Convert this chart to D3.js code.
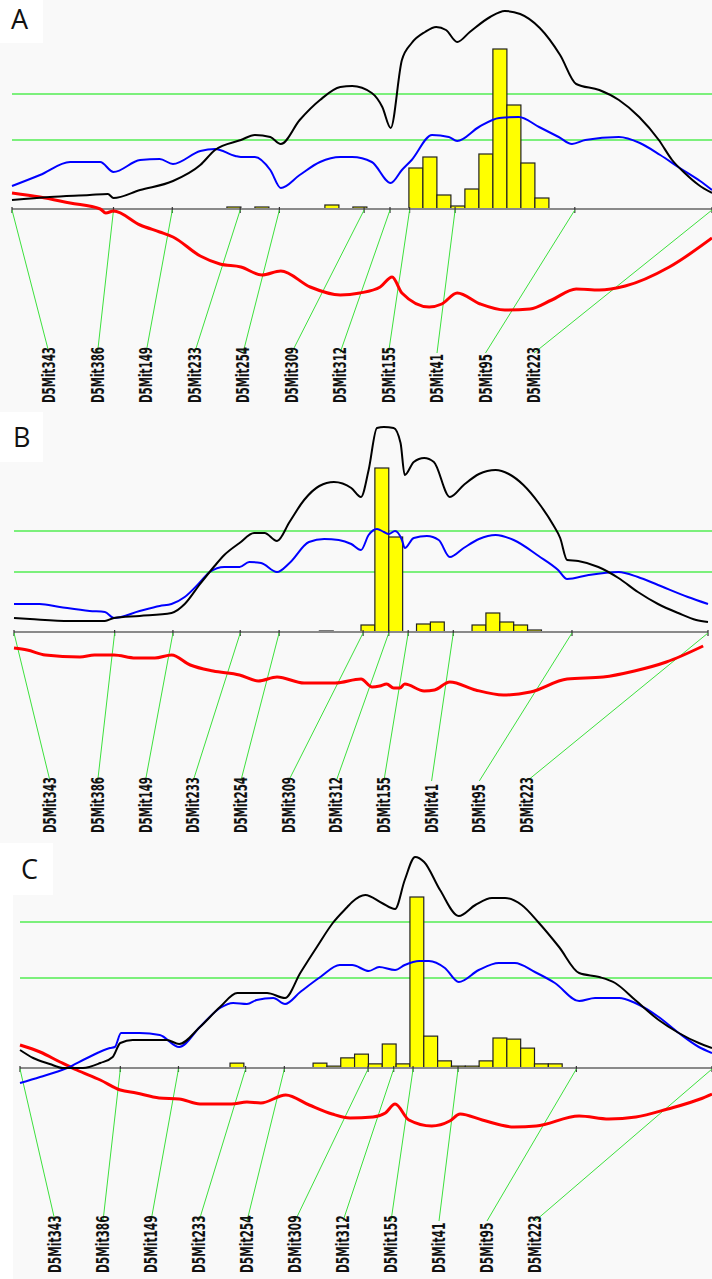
<!DOCTYPE html>
<html>
<head>
<meta charset="utf-8">
<script src="https://cdn.jsdelivr.net/npm/d3@7"></script>
<style>
  html, body { margin: 0; padding: 0; background: #ffffff; }
  svg { display: block; }
</style>
</head>
<body>
<svg id="chart" width="712" height="1279"></svg>
<script>
// Chromosome 5 markers and their map positions (cM)
const markerNames = ["D5Mit343", "D5Mit386", "D5Mit149", "D5Mit233", "D5Mit254", "D5Mit309",
                     "D5Mit312", "D5Mit155", "D5Mit41", "D5Mit95", "D5Mit223"];
const markerCM = [0, 14.5, 22.9, 32.6, 38.2, 50.3, 54.0, 56.8, 63.3, 80.4, 100];

// ---------- Trait A ----------
const thresholdsA = [13.8, 23.0];   // suggestive, significant LRS
const lrsFullA = [[0,1.8],[5.4,2.4],[11.1,2.8],[13.7,3.0],[14.5,2.2],[18.3,3.8],[23.0,5.6],[26.9,8.8],
  [29.0,11.8],[32.7,13.8],[34.7,14.8],[36.9,14.4],[38.4,13.0],[41.1,17.8],[44.0,21.8],[46.9,24.4],
  [48.6,24.6],[51.4,23.2],[52.9,20.4],[54.1,16.2],[55.7,29.8],[57.1,33.2],[59.0,35.4],[60.6,36.4],
  [62.0,35.8],[63.6,33.4],[65.4,35.4],[68.3,38.4],[70.4,39.6],[72.6,39.0],[75.4,36.2],[78.3,30.8],
  [80.6,25.0],[83.9,23.8],[86.7,21.8],[89.6,18.4],[92.4,13.8],[94.3,9.8],[96.1,7.2],[98.1,4.8],[100,3.2]];
const lrsAddA = [[0,4.6],[4.0,6.8],[8.3,9.4],[12.6,9.4],[14.5,7.4],[18.3,9.8],[21.1,10.0],[23.0,9.0],
  [26.9,11.6],[29.0,12.0],[31.9,10.6],[32.7,10.4],[34.7,10.4],[36.9,7.8],[38.4,4.2],[41.1,6.8],
  [44.0,9.4],[46.9,10.4],[48.6,10.4],[51.4,9.4],[54.1,5.2],[55.7,7.8],[57.1,9.8],[60.0,14.8],
  [62.4,14.4],[63.6,13.6],[66.7,16.4],[69.6,18.2],[72.4,18.4],[75.3,16.4],[78.1,14.4],[80.0,13.0],
  [81.9,13.8],[86.7,14.4],[89.7,13.2],[92.6,10.8],[95.4,8.2],[98.3,5.6],[100,3.8]];
const effectA = [[0,0.32],[4.0,0.24],[8.3,0.12],[12.6,0.0],[13.4,-0.08],[14.5,-0.04],[18.3,-0.32],
  [21.1,-0.46],[23.0,-0.56],[26.9,-0.94],[29.7,-1.10],[32.7,-1.16],[35.7,-1.32],[38.4,-1.24],
  [42.6,-1.56],[46.9,-1.72],[49.7,-1.68],[52.6,-1.56],[54.3,-1.36],[55.7,-1.68],[59.6,-1.96],
  [61.4,-1.90],[63.6,-1.68],[66.9,-1.90],[70.4,-2.02],[74.0,-2.00],[77.1,-1.82],[80.6,-1.60],
  [83.9,-1.62],[87.6,-1.54],[93.9,-1.16],[100,-0.58]];
const bootA = [[30.7,4],[34.7,4],[44.7,8],[48.7,4],[56.7,82],[58.7,104],[60.7,28],[62.7,6],[64.7,40],
  [66.7,110],[68.7,320],[70.7,208],[72.7,92],[74.7,22]];

// ---------- Trait B ----------
const thresholdsB = [12.0, 20.2];
const lrsFullB = [[0,2.8],[2.3,2.6],[8.0,2.2],[13.1,2.2],[14.4,2.8],[18.1,3.2],[22.7,3.8],[24.6,5.6],
  [26.7,9.4],[28.9,13.2],[30.3,15.4],[32.5,17.8],[34.6,19.8],[36.1,19.8],[37.9,18.2],[39.7,22.0],
  [41.8,26.4],[44.0,29.2],[46.1,30.0],[48.6,28.8],[50.0,27.0],[51.1,32.4],[52.3,40.8],[53.3,41.0],
  [54.7,40.8],[55.7,37.8],[56.3,31.4],[57.6,34.0],[59.1,34.8],[60.5,34.0],[62.8,27.0],[64.8,29.4],
  [67.0,31.6],[69.4,32.4],[71.3,31.6],[73.4,29.4],[75.6,25.8],[77.7,21.4],[78.7,18.8],[79.7,14.4],
  [81.3,14.2],[84.2,13.0],[87.1,10.8],[89.9,8.0],[92.8,5.6],[95.7,3.8],[98.3,2.4],[100,2.0]];
const lrsAddB = [[0,5.6],[3.7,5.6],[6.6,5.0],[10.9,4.2],[13.1,4.0],[14.4,2.8],[18.1,4.2],[21.0,5.2],
  [22.7,5.6],[24.6,7.0],[26.7,9.8],[28.2,12.0],[30.3,13.0],[32.5,13.0],[33.9,14.0],[35.6,13.8],
  [37.9,12.0],[39.7,13.8],[42.5,18.0],[44.7,18.6],[46.8,18.4],[48.6,17.6],[50.0,16.4],[51.1,19.4],
  [52.3,20.6],[53.3,20.0],[54.0,19.6],[54.9,20.2],[55.9,18.4],[56.3,16.8],[57.6,18.8],[59.5,19.2],
  [61.2,18.4],[62.8,15.0],[64.8,16.8],[67.0,18.6],[69.4,19.4],[72.0,18.4],[75.6,15.2],[78.4,12.4],
  [79.7,10.6],[82.8,11.4],[87.1,12.0],[89.9,11.0],[92.8,9.4],[97.1,7.0],[100,5.6]];
const effectB = [[0,-0.32],[1.9,-0.36],[4.5,-0.46],[9.5,-0.50],[11.6,-0.46],[14.4,-0.46],[17.5,-0.52],
  [20.3,-0.52],[22.7,-0.46],[25.4,-0.66],[28.7,-0.78],[32.5,-0.86],[35.2,-0.98],[37.9,-0.90],
  [41.8,-1.02],[46.3,-1.02],[50.0,-0.94],[51.6,-1.10],[52.7,-1.08],[53.7,-1.04],[54.7,-1.12],
  [55.6,-1.12],[56.3,-1.04],[59.1,-1.18],[60.6,-1.16],[62.8,-1.00],[66.5,-1.16],[70.5,-1.26],
  [74.4,-1.20],[79.7,-0.94],[84.9,-0.90],[89.4,-0.78],[94.0,-0.60],[99.3,-0.28]];
const bootB = [[32,1],[42,1],[44,3],[48,1],[50,21],[52,492],[54,285],[58,24],[60,30],[62,1],[64,1],
  [66,21],[68,57],[70,30],[72,21],[74,6]];

// ---------- Trait C ----------
const thresholdsC = [18.0, 29.2];
const lrsFullC = [[0,3.6],[1.9,2.0],[4.3,0.8],[6.2,0.0],[9.1,0.0],[11.6,1.0],[13.4,2.2],[14.5,5.0],
  [16.3,5.6],[21.2,5.6],[23.0,4.8],[26.0,8.2],[28.9,12.2],[31.4,15.0],[35.7,15.0],[38.3,14.0],
  [40.5,19.0],[42.9,24.2],[45.2,29.0],[47.3,32.2],[48.0,33.2],[49.9,34.6],[52.3,33.0],[54.2,31.8],
  [55.6,37.6],[57.1,42.2],[58.4,41.2],[60.7,35.6],[63.4,30.4],[65.8,32.6],[68.2,34.0],[70.1,34.0],
  [72.5,32.6],[75.0,29.0],[77.9,24.2],[80.8,19.0],[83.7,18.2],[86.0,17.0],[88.9,13.6],[92.3,9.6],
  [95.2,7.0],[98.1,5.0],[100,4.0]];
const lrsAddC = [[0,-3.0],[2.9,-1.8],[6.8,0.0],[9.7,2.0],[13.0,4.0],[13.7,4.2],[14.6,7.0],[17.3,7.0],
  [20.2,6.6],[23.0,4.2],[26.0,8.2],[28.9,12.0],[30.8,13.0],[32.8,12.8],[34.2,13.6],[36.6,14.0],
  [38.3,12.8],[40.5,15.2],[43.4,18.2],[46.2,20.6],[48.0,20.6],[50.4,19.4],[51.9,20.2],[54.2,19.6],
  [55.6,20.6],[57.7,21.4],[59.1,21.4],[61.4,20.0],[63.4,17.2],[66.3,19.6],[69.2,21.0],[71.5,21.0],
  [74.4,19.2],[77.3,17.0],[80.8,13.4],[83.1,14.0],[86.6,14.0],[88.9,13.0],[92.3,10.2],[95.2,7.0],
  [98.1,4.2],[100,3.0]];
const effectC = [[0,0.46],[2.9,0.32],[5.8,0.12],[8.2,-0.04],[11.6,-0.24],[14.5,-0.44],[16.8,-0.50],
  [20.1,-0.60],[23.0,-0.62],[26.0,-0.72],[30.6,-0.72],[32.8,-0.68],[34.8,-0.70],[38.4,-0.54],
  [41.8,-0.74],[45.1,-0.92],[47.7,-1.00],[51.0,-0.98],[52.8,-0.90],[54.2,-0.72],[56.2,-1.04],
  [59.5,-1.16],[62.1,-1.06],[63.6,-0.92],[66.8,-1.04],[71.4,-1.18],[74.6,-1.16],[80.8,-0.96],
  [85.1,-1.02],[89.0,-0.98],[93.6,-0.82],[98.3,-0.62],[100,-0.52]];
const bootC = [[16.35,1],[26.35,1],[30.35,13],[32.35,1],[38.35,1],[42.35,13],[44.35,5],[46.35,27],
  [48.35,37],[50.35,11],[52.35,64],[54.35,11],[56.35,456],[58.35,85],[60.35,19],[62.35,5],[64.35,5],
  [66.35,19],[68.35,80],[70.35,77],[72.35,53],[74.35,11],[76.35,11],[78.35,1],[90.35,1]];

const binWidth = 2; // cM per bootstrap bin

// Panel layout
const panels = [
  { name: "A", thresholds: thresholdsA, full: lrsFullA, add: lrsAddA, effect: effectA, boot: bootA,
    x0: 12, x1: 712, y0: 209, bootPx: 0.5,
    labelX0: 49, labelStep: 48.5, labelBottom: 403, lineEnd: 353, charW: 7,
    letter: [11, 29], bg: [0, 0, 712, 412], blank: [0, 0, 43, 43] },
  { name: "B", thresholds: thresholdsB, full: lrsFullB, add: lrsAddB, effect: effectB, boot: bootB,
    x0: 14, x1: 708, y0: 632, bootPx: 1 / 3,
    labelX0: 50, labelStep: 47.7, labelBottom: 833, lineEnd: 781, charW: 7,
    letter: [13, 447], bg: [0, 412, 712, 431], blank: [0, 412, 43, 50] },
  { name: "C", thresholds: thresholdsC, full: lrsFullC, add: lrsAddC, effect: effectC, boot: bootC,
    x0: 20, x1: 712, y0: 1068, bootPx: 0.375,
    labelX0: 55, labelStep: 48, labelBottom: 1273, lineEnd: 1221, charW: 7.2,
    letter: [21, 879], bg: [13, 843, 699, 436], blank: [13, 843, 40, 52] }
];

const svg = d3.select("#chart");

panels.forEach(p => {
  const g = svg.append("g").attr("class", "panel-" + p.name);

  const x = d3.scaleLinear().domain([0, 100]).range([p.x0, p.x1]);
  const yLrs = d3.scaleLinear().domain([0, 42]).range([p.y0, p.y0 - 210]);
  const yEff = d3.scaleLinear().domain([0, -1]).range([p.y0, p.y0 + 50]);
  const yBoot = d3.scaleLinear().domain([0, 1]).range([p.y0, p.y0 - p.bootPx]);

  // panel background
  g.append("rect").attr("x", p.bg[0]).attr("y", p.bg[1]).attr("width", p.bg[2]).attr("height", p.bg[3])
    .attr("fill", "#f9f9f9");
  g.append("rect").attr("x", p.blank[0]).attr("y", p.blank[1]).attr("width", p.blank[2]).attr("height", p.blank[3])
    .attr("fill", "#ffffff");

  // panel letter
  g.append("text").attr("x", p.letter[0]).attr("y", p.letter[1])
    .attr("font-family", "'Open Sans', 'Noto Sans', sans-serif").attr("font-size", 27)
    .attr("fill", "#111").text(p.name);

  // suggestive / significant thresholds
  g.selectAll("line.thr").data(p.thresholds).join("line").attr("class", "thr")
    .attr("x1", p.x0).attr("x2", 712)
    .attr("y1", d => yLrs(d)).attr("y2", d => yLrs(d))
    .attr("stroke", "#7cf07c").attr("stroke-width", 2);

  // bootstrap histogram
  g.selectAll("rect.boot").data(p.boot).join("rect").attr("class", "boot")
    .attr("x", d => x(d[0]))
    .attr("width", d => x(d[0] + binWidth) - x(d[0]))
    .attr("y", d => yBoot(d[1]))
    .attr("height", d => yBoot(0) - yBoot(d[1]))
    .attr("fill", "#ffff00").attr("stroke", "#222").attr("stroke-width", 1.2);

  // chromosome axis
  g.append("line").attr("x1", p.x0).attr("x2", p.x1).attr("y1", p.y0).attr("y2", p.y0)
    .attr("stroke", "#8a8a8a").attr("stroke-width", 2);
  g.selectAll("line.tick").data(markerCM).join("line").attr("class", "tick")
    .attr("x1", d => x(d)).attr("x2", d => x(d))
    .attr("y1", p.y0 - 2).attr("y2", p.y0 + 4)
    .attr("stroke", "#333").attr("stroke-width", 1.2);

  // marker connectors and labels
  const labelX = i => p.labelX0 + p.labelStep * i;
  g.selectAll("line.conn").data(markerCM).join("line").attr("class", "conn")
    .attr("x1", d => x(d)).attr("y1", p.y0 + 1)
    .attr("x2", (d, i) => labelX(i)).attr("y2", p.lineEnd)
    .attr("stroke", "#3de03d").attr("stroke-width", 1);
  g.selectAll("text.marker").data(markerNames).join("text").attr("class", "marker")
    .attr("transform", (d, i) => `translate(${labelX(i)},${p.labelBottom}) rotate(-90)`)
    .attr("dy", "0.36em")
    .attr("font-family", "'Liberation Sans Narrow', 'DejaVu Sans Condensed', 'Liberation Sans', sans-serif")
    .attr("font-size", 17).attr("font-weight", "bold").attr("fill", "#111")
    .attr("textLength", d => d.length * p.charW).attr("lengthAdjust", "spacingAndGlyphs")
    .text(d => d);

  // curves
  const lrsLine = d3.line().x(d => x(d[0])).y(d => yLrs(d[1])).curve(d3.curveMonotoneX);
  const effLine = d3.line().x(d => x(d[0])).y(d => yEff(d[1])).curve(d3.curveMonotoneX);

  g.append("path").datum(p.effect).attr("d", effLine)
    .attr("fill", "none").attr("stroke", "#ff0000").attr("stroke-width", 3).attr("stroke-linejoin", "round");
  g.append("path").datum(p.add).attr("d", lrsLine)
    .attr("fill", "none").attr("stroke", "#0000ff").attr("stroke-width", 2).attr("stroke-linejoin", "round");
  g.append("path").datum(p.full).attr("d", lrsLine)
    .attr("fill", "none").attr("stroke", "#000000").attr("stroke-width", 2).attr("stroke-linejoin", "round");
});
</script>
</body>
</html>
